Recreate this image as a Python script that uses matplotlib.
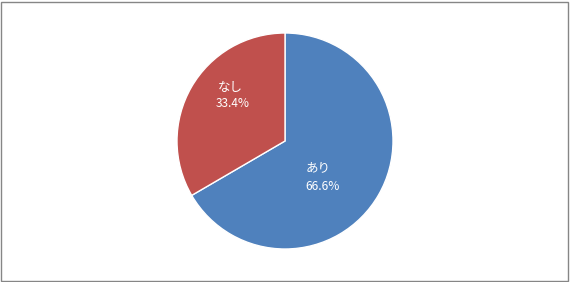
import matplotlib
matplotlib.use('Agg')
import matplotlib.pyplot as plt
from matplotlib.patches import Rectangle

plt.rcParams['font.family'] = ['Noto Sans CJK JP', 'DejaVu Sans']

labels = ['あり', 'なし']
shares = [66.6, 33.4]
colors = ['#4F81BD', '#C0504D']
# label anchor (name line, percent line) in pie units, relative to centre
name_pos = [(0.31, -0.25), (-0.51, 0.50)]
pct_pos = [(0.35, -0.42), (-0.48, 0.35)]

W, H = 570, 282
fig = plt.figure(figsize=(W / 100, H / 100), dpi=100)
fig.patch.set_facecolor('white')
fig.add_artist(Rectangle((1 / W, 1 / H), (W - 3) / W, (H - 3) / H,
                         transform=fig.transFigure, fill=False,
                         edgecolor='#868686', lw=1.0))

cx, cy, r = 285, 141, 108
ax = fig.add_axes([(cx - r) / W, (H - cy - r) / H, 2 * r / W, 2 * r / H])
ax.pie(shares, colors=colors, startangle=90, counterclock=False,
       wedgeprops=dict(edgecolor='white', linewidth=1.0))
ax.set_xlim(-1, 1); ax.set_ylim(-1, 1)
ax.set_aspect('equal')

for lab, v, (nx, ny), (px, py) in zip(labels, shares, name_pos, pct_pos):
    ax.text(nx, ny, lab, color='white', fontsize=9, ha='center', va='center')
    ax.text(px, py, '%.1f%%' % v, color='white', fontsize=8.6,
            ha='center', va='center')

fig.savefig('out.png', dpi=100)
